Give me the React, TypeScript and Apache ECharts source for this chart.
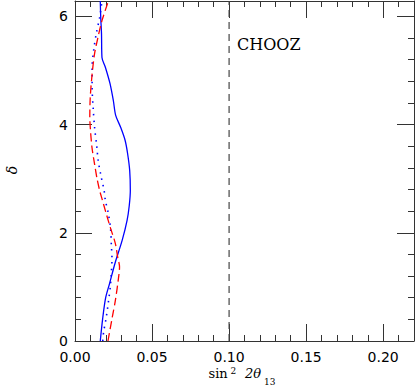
import React, { useEffect, useRef } from "react";
import * as echarts from "echarts";

const TWO_PI = 2 * Math.PI;

const solidDelta = [0, 0.4, 0.8, 1.07, 1.46, 1.86, 2.23, 2.5, 2.78, 3.15, 3.47, 3.71, 3.95, 4.17, 4.44, 4.76, 5.06, 5.24, 5.68, 5.98, 6.283];
const solidSin = [0.0164, 0.0179, 0.0199, 0.0225, 0.0262, 0.0306, 0.0338, 0.0352, 0.0359, 0.0355, 0.0341, 0.0325, 0.0296, 0.0264, 0.0249, 0.0227, 0.0197, 0.0175, 0.0172, 0.0167, 0.0164];

const dottedDelta = [0, 0.17, 0.44, 0.75, 1.0, 1.27, 1.52, 1.77, 2.1, 2.36, 2.6, 2.78, 3.06, 3.34, 3.58, 3.95, 4.3, 4.69, 5.06, 5.37, 5.68, 5.98, 6.283];
const dottedSin = [0.018, 0.0186, 0.0203, 0.0218, 0.0229, 0.0236, 0.024, 0.0236, 0.023, 0.0216, 0.0197, 0.0189, 0.0168, 0.015, 0.0142, 0.0127, 0.0118, 0.0111, 0.0111, 0.0121, 0.0138, 0.016, 0.0175];

const dashedDelta = [0, 0.41, 0.75, 1.18, 1.37, 1.55, 1.8, 2.1, 2.35, 2.63, 2.78, 3.0, 3.27, 3.58, 3.95, 4.14, 4.5, 4.9, 5.31, 5.61, 5.92, 6.283];
const dashedSin = [0.0214, 0.024, 0.0262, 0.0283, 0.0289, 0.0277, 0.0262, 0.0229, 0.0203, 0.0175, 0.016, 0.0143, 0.0127, 0.011, 0.0099, 0.0096, 0.0099, 0.011, 0.0127, 0.0149, 0.0175, 0.0217];

const choozLimit = 0.1;
const choozDelta = [0, TWO_PI];

const xMajorTicks = [0, 0.05, 0.1, 0.15, 0.2];
const xMinorTicks = [0.01, 0.02, 0.03, 0.04, 0.06, 0.07, 0.08, 0.09, 0.11, 0.12, 0.13, 0.14, 0.16, 0.17, 0.18, 0.19, 0.21];
const yMajorTicks = [0, 2, 4, 6];
const yMinorTicks = [0.4, 0.8, 1.2, 1.6, 2.4, 2.8, 3.2, 3.6, 4.4, 4.8, 5.2, 5.6, 6.0];

const X_MIN = 0;
const X_MAX = 0.22;
const Y_MIN = 0;
const Y_MAX = TWO_PI;

const pairs = (xs: number[], ys: number[]) => xs.map((x, i) => [x, ys[i]]);

export default function App() {
  const ref = useRef<HTMLDivElement>(null);

  useEffect(() => {
    if (!ref.current) return;
    const chart = echarts.init(ref.current, null, { renderer: "svg" });
    const axisColor = "#333";
    const labelStyle = { fontFamily: "DejaVu Sans", fontSize: 14, color: "#000" };

    const xAxisBase = (pos: string, grid: number, major: boolean, labels: boolean) => ({
      type: "value",
      gridIndex: grid,
      position: pos,
      min: X_MIN,
      max: X_MAX,
      splitLine: { show: false },
      axisLine: { show: major, onZero: false, lineStyle: { color: axisColor, width: 1 } },
      axisTick: {
        show: true,
        inside: true,
        length: major ? 17 : 6,
        customValues: major ? xMajorTicks : xMinorTicks,
        lineStyle: { color: axisColor, width: 1 },
      },
      axisLabel: labels
        ? {
            show: true,
            margin: 9,
            customValues: xMajorTicks,
            formatter: (v: number) => v.toFixed(2),
            ...labelStyle,
          }
        : { show: false },
    });

    const yAxisBase = (pos: string, grid: number, major: boolean, labels: boolean) => ({
      type: "value",
      gridIndex: grid,
      position: pos,
      min: Y_MIN,
      max: Y_MAX,
      splitLine: { show: false },
      axisLine: { show: major, onZero: false, lineStyle: { color: axisColor, width: 1 } },
      axisTick: {
        show: true,
        inside: true,
        length: major ? 17 : 6,
        customValues: major ? yMajorTicks : yMinorTicks,
        lineStyle: { color: axisColor, width: 1 },
      },
      axisLabel: labels
        ? {
            show: true,
            margin: 7,
            customValues: yMajorTicks,
            formatter: (v: number) => String(Math.round(v)),
            ...labelStyle,
          }
        : { show: false },
    });

    const gridPos = { left: 75, top: 1, right: 1, bottom: 46, containLabel: false };

    chart.setOption({
      animation: false,
      backgroundColor: "#fff",
      grid: [gridPos, { ...gridPos }],
      xAxis: [
        xAxisBase("bottom", 0, true, true),
        xAxisBase("top", 0, true, false),
        xAxisBase("bottom", 1, false, false),
        xAxisBase("top", 1, false, false),
      ],
      yAxis: [
        yAxisBase("left", 0, true, true),
        yAxisBase("right", 0, true, false),
        yAxisBase("left", 1, false, false),
        yAxisBase("right", 1, false, false),
      ],
      series: [
        {
          type: "line",
          xAxisIndex: 0,
          yAxisIndex: 0,
          data: choozDelta.map((d) => [choozLimit, d]),
          showSymbol: false,
          lineStyle: { color: "#444", width: 1.2, type: [7, 5] },
        },
        {
          type: "line",
          xAxisIndex: 0,
          yAxisIndex: 0,
          data: pairs(solidSin, solidDelta),
          showSymbol: false,
          smooth: 0.3,
          lineStyle: { color: "#0000ff", width: 1.3, type: "solid" },
        },
        {
          type: "line",
          xAxisIndex: 0,
          yAxisIndex: 0,
          data: pairs(dottedSin, dottedDelta),
          showSymbol: false,
          smooth: 0.3,
          lineStyle: { color: "#0000ff", width: 1.6, type: [1.5, 5] },
        },
        {
          type: "line",
          xAxisIndex: 0,
          yAxisIndex: 0,
          data: pairs(dashedSin, dashedDelta),
          showSymbol: false,
          smooth: 0.3,
          lineStyle: { color: "#ff0000", width: 1.3, type: [8, 4] },
        },
      ],
      graphic: [
        {
          type: "text",
          x: 237,
          y: 44,
          style: {
            text: "CHOOZ",
            fontFamily: "DejaVu Serif",
            fontSize: 16,
            fill: "#000",
            align: "left",
            verticalAlign: "middle",
          },
        },
        {
          type: "text",
          x: 11.5,
          y: 170,
          rotation: Math.PI / 2,
          style: {
            text: "δ",
            fontFamily: "DejaVu Serif",
            fontStyle: "italic",
            fontSize: 14,
            fill: "#000",
            align: "center",
            verticalAlign: "middle",
          },
        },
        {
          type: "text",
          x: 208.5,
          y: 373,
          style: {
            text: "sin",
            fontFamily: "DejaVu Serif",
            fontSize: 13,
            fill: "#000",
            align: "left",
            verticalAlign: "middle",
          },
        },
        {
          type: "text",
          x: 230.5,
          y: 370.5,
          style: {
            text: "2",
            fontFamily: "DejaVu Serif",
            fontSize: 9,
            fill: "#000",
            align: "left",
            verticalAlign: "middle",
          },
        },
        {
          type: "text",
          x: 245,
          y: 373,
          style: {
            text: "2θ",
            fontFamily: "DejaVu Serif",
            fontStyle: "italic",
            fontSize: 13,
            fill: "#000",
            align: "left",
            verticalAlign: "middle",
          },
        },
        {
          type: "text",
          x: 264,
          y: 381.5,
          style: {
            text: "13",
            fontFamily: "DejaVu Serif",
            fontSize: 9,
            fill: "#000",
            align: "left",
            verticalAlign: "middle",
          },
        },
      ],
    });

    return () => {
      chart.dispose();
    };
  }, []);

  return (
    <div
      ref={ref}
      style={{ position: "absolute", left: 0, top: 0, width: 415, height: 387 }}
    />
  );
}
